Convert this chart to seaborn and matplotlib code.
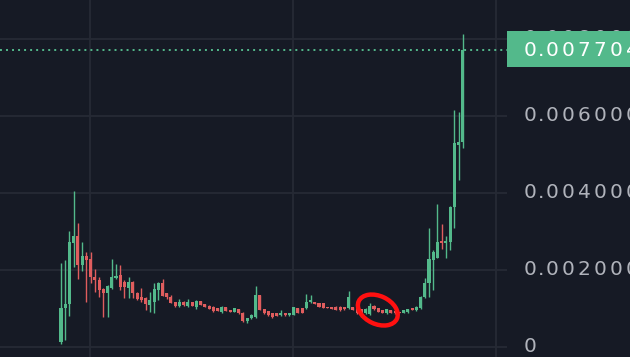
import numpy as np
import matplotlib
matplotlib.use('Agg')
import matplotlib.pyplot as plt
import matplotlib.transforms as mtransforms
from matplotlib.patches import Rectangle, Ellipse
import seaborn as sns

# ============ DATA (harga dalam satuan 1e-6) ============
open_ = [130, 1013, 1117, 2701, 2883, 2130, 2364, 2286, 1818, 1740,
         1506, 1403, 1532, 1792, 1870, 1688, 1532, 1688, 1403, 1299,
         1273, 1091, 1169, 1481, 1662, 1403, 1299, 1169, 1065, 1169,
         1065, 1169, 1039, 1195, 1117, 1065, 1039, 1013, 909, 1039,
         961, 909, 987, 883, 675, 753, 779, 1351, 987, 935,
         883, 883, 831, 883, 831, 831, 1013, 1013, 1013, 1169,
         1169, 1143, 1143, 1039, 1039, 1039, 1039, 1039, 1013, 1039,
         1039, 987, 883, 857, 1065, 1013, 961, 883, 961, 935,
         909, 883, 909, 1013, 961, 1013, 1299, 1662, 2260, 2312,
         2753, 2701, 2727, 3636, 5247, 5325]
high = [2182, 2260, 3013, 4052, 3221, 2727, 2468, 2468, 2026, 1818,
        1532, 1610, 2286, 2156, 2130, 1740, 1818, 1714, 1429, 1532,
        1299, 1429, 1662, 1688, 1766, 1403, 1351, 1169, 1247, 1195,
        1247, 1169, 1221, 1195, 1117, 1091, 1065, 1013, 1065, 1039,
        961, 1013, 987, 909, 753, 857, 1584, 1351, 987, 935,
        883, 883, 961, 883, 883, 1039, 1013, 1013, 1377, 1351,
        1169, 1143, 1143, 1039, 1039, 1065, 1065, 1039, 1455, 1039,
        1039, 987, 1013, 1143, 1091, 1013, 961, 987, 961, 935,
        909, 961, 987, 1013, 1065, 1325, 1792, 3091, 2519, 3714,
        3195, 2883, 3662, 6156, 6104, 8130]
low = [78, 182, 805, 2078, 1766, 1974, 1169, 1662, 1429, 1299,
       779, 779, 1506, 1766, 1481, 1273, 1273, 1273, 1221, 1169,
       961, 909, 883, 1221, 1325, 1247, 1143, 1039, 1039, 1065,
       1039, 1065, 987, 1091, 1039, 987, 909, 935, 883, 935,
       909, 909, 857, 649, 623, 727, 753, 961, 857, 805,
       753, 805, 805, 805, 805, 831, 883, 883, 987, 1143,
       1117, 1039, 1013, 1013, 987, 961, 935, 961, 987, 961,
       857, 779, 857, 831, 961, 909, 883, 857, 883, 857,
       883, 883, 883, 961, 935, 987, 1273, 1299, 1481, 2312,
       2545, 2312, 2519, 3091, 4338, 5169]
close = [1013, 1117, 2727, 2883, 2130, 2364, 2260, 1818, 1740, 1481,
         1403, 1584, 1818, 1844, 1558, 1558, 1688, 1403, 1247, 1221,
         1117, 1221, 1506, 1662, 1325, 1299, 1143, 1065, 1169, 1091,
         1169, 1065, 1195, 1091, 1039, 987, 935, 935, 1039, 935,
         909, 1013, 883, 675, 753, 831, 1351, 961, 883, 831,
         779, 805, 883, 831, 883, 1039, 883, 883, 1169, 1221,
         1117, 1039, 1013, 1013, 987, 961, 961, 987, 1299, 961,
         883, 805, 987, 1065, 987, 909, 883, 987, 883, 883,
         883, 961, 987, 961, 1039, 1299, 1662, 2286, 2468, 2727,
         2701, 2753, 3636, 5299, 5325, 7704]

last_price = 0.007704
y_ticks = [0, 0.002, 0.004, 0.006, 0.008]
y_tick_labels = ['0', '0.002000', '0.004000', '0.006000', '0.008000']

# ============ STYLE ============
BG = '#161a25'
GRID = '#262a35'
UP = '#53b98b'
DOWN = '#e05d5e'
LABEL = '#b0b3bb'
W, H = 630, 357

sns.set_theme(style='dark', rc={'axes.facecolor': BG, 'figure.facecolor': BG,
                                'grid.color': GRID})
plt.rcParams['font.family'] = ['DejaVu Sans']

o = np.array(open_) * 1e-6
h = np.array(high) * 1e-6
l = np.array(low) * 1e-6
c = np.array(close) * 1e-6
idx = np.arange(len(o))
colors = np.where(c >= o, UP, DOWN)

fig = plt.figure(figsize=(W / 100, H / 100), dpi=100)
ax = fig.add_axes([0, 0, 507 / W, 1])

# --- candles ---
ax.vlines(idx, l, h, colors=colors, linewidth=1.0, zorder=2)
body_bottom = np.minimum(o, c)
body_h = np.maximum(np.abs(c - o), 0.00003)
ax.bar(idx, body_h, bottom=body_bottom, width=0.72, color=colors,
       linewidth=0, zorder=3)

# --- garis harga terakhir ---
ax.axhline(last_price, color=UP, linestyle=(0, (1, 2.1)), linewidth=1.4, zorder=4)

# --- lingkaran merah (coretan tangan) ---
circle_tr = fig.dpi_scale_trans + mtransforms.ScaledTranslation(74.9, 0.00096, ax.transData)
ax.add_patch(Ellipse((0, 0), 0.42, 0.28, angle=-25, transform=circle_tr,
                     fill=False, edgecolor='#ff1010', linewidth=3.2, zorder=5))

ax.set_xlim(-14.42, 105.44)
ax.set_ylim(-0.00026, 0.009013)
ax.set_xticks([6.86, 54.85, 102.84])
ax.set_yticks(y_ticks)
ax.tick_params(axis='both', length=0, labelbottom=False, labelleft=False)
ax.grid(True, color=GRID, linewidth=1.3)
for s in ax.spines.values():
    s.set_visible(False)

# --- label sumbu harga (spasi huruf lebar ala TradingView) ---
lab_tr = mtransforms.blended_transform_factory(fig.transFigure, ax.transData)


def draw_price(text, yval, color, z):
    x = 529.7
    for k, ch in enumerate(text):
        fig.text(x / W, yval, ch, transform=lab_tr, color=color, fontsize=14.5,
                 ha='center', va='center', zorder=z)
        if ch == '.' or (k + 1 < len(text) and text[k + 1] == '.'):
            x += 11.2
        else:
            x += 16.0


for val, lab in zip(y_ticks, y_tick_labels):
    draw_price(lab, val, LABEL, 3)

# --- label harga terakhir ---
fig.add_artist(Rectangle((507 / W, (H - 67) / H), 0.3, 36 / H, transform=fig.transFigure,
                         facecolor=UP, edgecolor='none', zorder=5))
draw_price(f'{last_price:.6f}', last_price, 'white', 6)

fig.savefig('out.png', dpi=100, facecolor=BG)
